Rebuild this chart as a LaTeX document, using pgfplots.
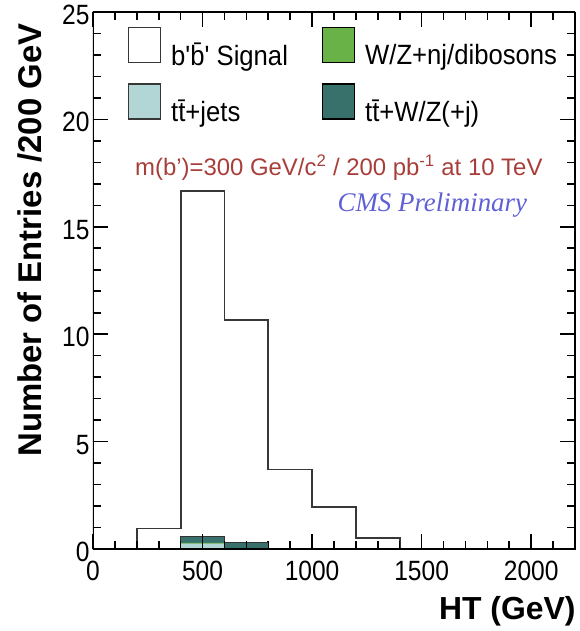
\documentclass[border=0pt]{standalone}
\usepackage{fontspec}
\setmainfont{Liberation Sans}
\newfontfamily\tickfont{Liberation Sans}[FakeStretch=0.88]
\newfontfamily\legfont{Liberation Sans}[FakeStretch=0.92]
\newfontfamily\tmfont{Liberation Serif}
\usepackage{pgfplots}
\pgfplotsset{compat=1.18}
\definecolor{ttjets}{RGB}{178,214,214}
\definecolor{wzgreen}{RGB}{104,178,72}
\definecolor{ttwz}{RGB}{56,112,108}
\definecolor{sigc}{RGB}{55,55,55}
\definecolor{redtxt}{RGB}{168,62,58}
\definecolor{bluetxt}{RGB}{96,96,214}

\begin{document}
\begin{tikzpicture}
\begin{axis}[
  scale only axis, width=482bp, height=537bp,
  xmin=0, xmax=2200, ymin=0, ymax=25,
  xtick={0,500,...,2000}, ytick={0,5,...,25},
  minor x tick num=4, minor y tick num=4,
  major tick length=15bp, minor tick length=8bp,
  tick style={black, line width=1.6bp},
  tick label style={font=\tickfont\fontsize{28}{28}\selectfont},
  xticklabel style={yshift=-9bp},
  yticklabel style={yshift=-3bp},
  /pgf/number format/assume math mode=true,
  /pgf/number format/set thousands separator={},
  xlabel={HT (GeV)},
  ylabel={Number of Entries /200 GeV},
  label style={font=\bfseries\fontsize{32}{32}\selectfont},
  xlabel style={at={(axis description cs:1,0)}, anchor=east, yshift=-62bp, xshift=4bp},
  ylabel style={at={(axis description cs:-0.131,0.985)}, anchor=east, font=\bfseries\fontsize{33}{33}\selectfont},
  legend columns=2,
  legend cell align=left,
  legend style={draw=none, fill=none, at={(rel axis cs:0.066,0.976)}, anchor=north west,
    font=\legfont\fontsize{28}{28}\selectfont, row sep=14bp,
    /tikz/every even column/.append style={column sep=32bp}},
  legend image code/.code={\draw[#1] (0bp,-7.5bp) rectangle (32bp,27.5bp); \path (40bp,0bp);},
]
% stacked backgrounds (cumulative heights), top layer first
\addplot[const plot, fill=ttwz, draw=black!80, line width=0.8bp, forget plot]
  coordinates {(400,0.58) (600,0.30) (800,0.30)} \closedcycle;
\addplot[const plot, fill=wzgreen, draw=none, forget plot]
  coordinates {(400,0.28) (600,0.04) (800,0.04)} \closedcycle;
\addplot[const plot, fill=ttjets, draw=none, forget plot]
  coordinates {(400,0.25) (600,0.02) (800,0.02)} \closedcycle;
% signal
\addplot[const plot, draw=sigc, line width=1.8bp, forget plot]
  coordinates {(200,0.95) (400,16.65) (600,10.65) (800,3.7) (1000,1.95) (1200,0.5) (1400,0.5)} \closedcycle;

\addlegendimage{fill=white, draw=sigc, line width=1.2bp}
\addlegendentry{b'\=b' Signal}
\addlegendimage{fill=wzgreen, draw=black, line width=1.2bp}
\addlegendentry{W/Z+nj/dibosons}
\addlegendimage{fill=ttjets, draw=sigc, line width=1.2bp}
\addlegendentry{t\=t+jets}
\addlegendimage{fill=ttwz, draw=black, line width=1.2bp}
\addlegendentry{t\=t+W/Z(+j)}

\node[text=redtxt, font=\fontsize{24}{24}\selectfont] at (rel axis cs:0.51,0.711)
  {m(b')=300 GeV/c\textsuperscript{2} / 200 pb\textsuperscript{-1} at 10 TeV};
\node[text=bluetxt, font=\tmfont\itshape\fontsize{27}{27}\selectfont] at (rel axis cs:0.704,0.641)
  {CMS Preliminary};

% ROOT-style inner ticks on all four sides
\pgfplotsinvokeforeach{500,1000,1500,2000}{
  \draw[black, line width=1.6bp] (axis cs:#1,0) -- ++(0,15bp);
  \draw[black, line width=1.6bp] (axis cs:#1,25) -- ++(0,-15bp);
}
\pgfplotsinvokeforeach{100,200,300,400,600,700,800,900,1100,1200,1300,1400,1600,1700,1800,1900,2100}{
  \draw[black, line width=1.4bp] (axis cs:#1,0) -- ++(0,8bp);
  \draw[black, line width=1.4bp] (axis cs:#1,25) -- ++(0,-8bp);
}
\pgfplotsinvokeforeach{5,10,15,20}{
  \draw[black, line width=1.6bp] (axis cs:0,#1) -- ++(15bp,0);
  \draw[black, line width=1.6bp] (axis cs:2200,#1) -- ++(-15bp,0);
}
\pgfplotsinvokeforeach{1,2,3,4,6,7,8,9,11,12,13,14,16,17,18,19,21,22,23,24}{
  \draw[black, line width=1.4bp] (axis cs:0,#1) -- ++(8bp,0);
  \draw[black, line width=1.4bp] (axis cs:2200,#1) -- ++(-8bp,0);
}

% heavy frame as in the ROOT canvas
\draw[line width=2.4bp] (rel axis cs:0,0) rectangle (rel axis cs:1,1);
\coordinate (ll) at (rel axis cs:0,0);
\coordinate (ur) at (rel axis cs:1,1);
\end{axis}
\pgfresetboundingbox
\path (ll) ++(-93bp,-82bp) (ur) ++(5bp,12bp);
\end{tikzpicture}
\end{document}
